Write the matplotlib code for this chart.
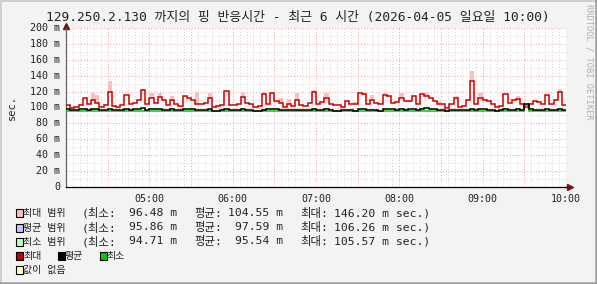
import numpy as np
import matplotlib
matplotlib.use("Agg")
import matplotlib.pyplot as plt
from matplotlib.patches import Rectangle
from matplotlib.lines import Line2D
from matplotlib.ticker import FixedLocator, NullFormatter

# ---------------- data ----------------
start_hour = 4.0          # 04:00
step_hours = 0.05         # 3-minute samples
max_vals = [103,100,101,103,112,104,110,106,101,103,
            119,102,101,103,116,104,106,110,122,105,
            112,106,113,109,103,110,104,102,114,112,
            110,104,104,106,112,101,102,103,121,103,
            103,104,113,106,104,101,102,117,104,118,
            108,106,101,104,102,110,103,102,106,120,
            104,107,112,104,103,103,101,108,104,104,
            118,117,104,110,106,104,116,115,106,107,
            112,108,108,115,104,117,114,112,108,104,
            105,100,105,112,101,102,110,133,104,112,
            110,108,104,101,102,117,106,110,111,105,
            101,104,108,107,104,116,104,110,120,103]
max_hi = [103,100,101,105,112,104,118,116,101,103,
          133,102,101,103,116,104,106,110,123,105,
          118,106,118,109,103,114,104,102,114,112,
          110,120,104,106,118,101,102,103,121,103,
          103,104,120,106,104,101,102,119,104,118,
          108,112,101,111,102,118,103,102,106,122,
          104,107,118,104,103,103,101,108,104,107,
          118,119,104,116,106,104,118,115,106,107,
          118,108,108,115,104,117,118,112,108,108,
          105,100,105,114,101,102,110,146,104,118,
          110,108,104,101,102,117,106,110,114,105,
          101,104,108,107,104,116,104,110,123,103]
avg_vals = [98,97,97,98,98,97,98,98,97,97,
            98,97,97,97,98,97,98,98,99,97,
            98,98,98,97,97,98,97,97,98,98,
            98,97,97,97,98,96,96,97,98,97,
            97,97,98,97,97,96,96,97,98,98,
            98,97,97,97,97,97,97,97,97,98,
            97,97,98,97,96,96,97,97,97,96,
            98,98,97,97,97,96,98,98,98,97,
            98,97,98,98,97,98,99,98,98,97,
            97,96,97,97,97,97,97,98,97,98,
            98,97,97,96,97,98,97,97,98,97,
            104,98,97,97,97,98,97,97,98,97]
avg_hi = [98,97,97,98,98,98,98,99,97,97,
          99,97,97,97,98,97,98,98,100,97,
          99,98,99,97,97,98,97,97,99,98,
          98,98,97,97,99,96,96,97,99,97,
          97,97,99,97,97,96,96,98,98,99,
          98,97,97,97,97,98,97,97,97,99,
          97,97,99,97,96,96,97,97,97,96,
          99,99,97,97,97,96,99,98,98,97,
          99,97,98,99,97,99,100,98,98,97,
          97,96,97,97,97,97,97,100,97,99,
          98,97,97,96,97,99,97,97,99,97,
          106,98,97,97,97,99,97,97,99,97]
min_vals = [95,95,95,95,95,95,95,95,95,95,
            95,95,95,96,95,95,95,95,95,95,
            95,96,95,95,95,95,95,95,95,95,
            96,96,96,95,95,95,95,95,95,96,
            96,95,95,95,95,95,95,95,95,95,
            95,95,95,95,95,95,96,95,95,95,
            95,95,95,95,95,95,95,95,95,95,
            95,95,95,95,95,95,95,95,95,95,
            95,95,95,95,95,95,95,96,95,95,
            95,95,95,95,95,95,95,95,95,95,
            95,95,95,95,95,95,95,95,95,95,
            103,96,95,95,95,95,95,95,96,95]
min_hi = [95,95,95,96,95,95,95,95,95,95,
          96,95,95,96,95,95,95,95,96,95,
          95,96,95,95,95,95,95,95,95,95,
          96,96,96,95,95,95,95,95,96,96,
          96,95,95,95,95,95,95,95,95,95,
          95,95,95,95,95,95,96,95,95,95,
          95,95,96,95,95,95,95,95,95,95,
          96,95,95,95,95,95,95,95,95,95,
          95,95,95,95,95,95,96,96,95,95,
          95,95,95,95,95,95,95,96,95,95,
          95,95,95,95,95,95,95,95,95,95,
          105,96,95,95,95,95,95,95,96,95]

y_ticks = [0, 20, 40, 60, 80, 100, 120, 140, 160, 180, 200]
y_labels = ["0", "20 m", "40 m", "60 m", "80 m", "100 m", "120 m",
            "140 m", "160 m", "180 m", "200 m"]
x_label_hours = [5, 6, 7, 8, 9, 10]
x_labels = ["05:00", "06:00", "07:00", "08:00", "09:00", "10:00"]

title = "129.250.2.130 까지의 핑 반응시간 - 최근 6 시간 (2026-04-05 일요일 10:00)"
range_labels = ["최대 범위", "평균 범위", "최소 범위"]
stat_min = [96.48, 95.86, 94.71]
stat_avg = [104.55, 97.59, 95.54]
stat_max = [146.20, 106.26, 105.57]
line_labels = ["최대", "평균", "최소"]
nodata_label = "값이 없음"

# ---------------- styling ----------------
W, H = 597, 284
MONO = ["DejaVu Sans Mono", "Noto Sans CJK KR"]
BACK = "#f3f3f3"
C_RANGE = ["#ffbcbc", "#c4c4ff", "#bcffbc"]
C_LINE = ["#cc0000", "#000000", "#00cc00"]
C_NODATA = "#ffffaa"
TXT = "#222222"

fig = plt.figure(figsize=(W / 100, H / 100), dpi=100)
fig.patch.set_facecolor(BACK)

def fx(x):
    return x / W

def fy(y):
    return 1 - y / H

# 3D frame
fig.add_artist(Line2D([0, 1], [fy(0.5), fy(0.5)], color="#cfcfcf", lw=1.4, transform=fig.transFigure))
fig.add_artist(Line2D([fx(0.5), fx(0.5)], [0, 1], color="#cfcfcf", lw=1.4, transform=fig.transFigure))
fig.add_artist(Line2D([0, 1], [fy(283), fy(283)], color="#9e9e9e", lw=1.8, transform=fig.transFigure))
fig.add_artist(Line2D([fx(596), fx(596)], [0, 1], color="#9e9e9e", lw=1.8, transform=fig.transFigure))

ax = fig.add_axes([fx(66), fy(187), 500 / W, 159 / H])
ax.set_facecolor("white")

n = len(max_vals)
edges = start_hour + step_hours * np.arange(n + 1)

ax.stairs(max_hi, edges, baseline=max_vals, fill=True, color=C_RANGE[0], lw=0, zorder=2)
ax.stairs(avg_hi, edges, baseline=avg_vals, fill=True, color=C_RANGE[1], lw=0, zorder=2)
ax.stairs(min_hi, edges, baseline=min_vals, fill=True, color=C_RANGE[2], lw=0, zorder=2)
ax.stairs(max_vals, edges, baseline=None, color=C_LINE[0], lw=1.1, zorder=4)
ax.stairs(avg_vals, edges, baseline=None, color=C_LINE[1], lw=1.1, zorder=5)
ax.stairs(min_vals, edges, baseline=None, color=C_LINE[2], lw=1.1, zorder=3)

ax.set_xlim(start_hour, start_hour + step_hours * n)
ax.set_ylim(y_ticks[0], y_ticks[-1])

# grid
ax.xaxis.set_major_locator(FixedLocator(np.arange(4.5, 10.01, 0.5)))
ax.xaxis.set_minor_locator(FixedLocator(np.arange(4 + 5 / 60, 10.0, 5 / 60)))
ax.yaxis.set_major_locator(FixedLocator(y_ticks))
ax.yaxis.set_minor_locator(FixedLocator(np.arange(10, 200, 20)))
ax.grid(which="minor", color="#d4d4d4", lw=0.7, linestyle=(0, (1, 2)))
ax.grid(which="major", color="#f0a0a0", lw=0.7, linestyle=(0, (1, 2)))
ax.set_axisbelow(True)
ax.xaxis.set_major_formatter(NullFormatter())
ax.yaxis.set_major_formatter(NullFormatter())
ax.tick_params(which="both", length=0)

for h, lab in zip(x_label_hours, x_labels):
    ax.text(h, -0.045, lab, transform=ax.get_xaxis_transform(), ha="center", va="top",
            family=MONO, fontsize=7.2, color=TXT)
for v, lab in zip(y_ticks, y_labels):
    ax.text(-0.012, v, lab, transform=ax.get_yaxis_transform(), ha="right", va="center",
            family=MONO, fontsize=7.2, color=TXT)

for s in ["top", "right"]:
    ax.spines[s].set_visible(False)
ax.spines["left"].set_color("#606060")
ax.spines["left"].set_linewidth(0.9)
ax.spines["bottom"].set_color("#000000")
ax.spines["bottom"].set_linewidth(0.9)

# axis arrows
ax.plot([0], [1.015], marker="^", markersize=4, color="#7a1010", transform=ax.transAxes, clip_on=False)
ax.plot([1.008], [0], marker=">", markersize=4, color="#7a1010", transform=ax.transAxes, clip_on=False)

# title, labels
fig.text(fx(298), fy(18), title, ha="center", va="center", family=MONO, fontsize=9.3, color=TXT)
fig.text(fx(12), fy(107), "sec.", rotation=90, ha="center", va="center", family=MONO, fontsize=7.5, color=TXT)
fig.text(fx(589), fy(4), "RRDTOOL / TOBI OETIKER", rotation=270, ha="center", va="top",
         family=MONO, fontsize=6.3, color="#b0b0b0")

# legend
def box(x, y, color):
    fig.add_artist(Rectangle((fx(x), fy(y + 4)), 7 / W, 8 / H, transform=fig.transFigure,
                             facecolor=color, edgecolor="black", lw=0.8))

kw = dict(va="center", family=MONO, fontsize=8.2, color=TXT)
kwk = dict(va="center", family=MONO, fontsize=7.2, color=TXT)
rows_y = [213, 227.5, 241.5]
for i in range(3):
    y = rows_y[i]
    box(16, y, C_RANGE[i])
    fig.text(fx(23), fy(y), range_labels[i], ha="left", **kwk)
    fig.text(fx(82), fy(y), "(최소:", ha="left", **kw)
    fig.text(fx(177), fy(y), f"{stat_min[i]:.2f} m", ha="right", **kw)
    fig.text(fx(194), fy(y), "평균:", ha="left", **kw)
    fig.text(fx(283.5), fy(y), f"{stat_avg[i]:.2f} m", ha="right", **kw)
    fig.text(fx(300), fy(y), "최대:", ha="left", **kw)
    fig.text(fx(430), fy(y), f"{stat_max[i]:.2f} m sec.)", ha="right", **kw)

y = 256
for xb, lab, col in zip([16, 57.5, 99.5], line_labels, C_LINE):
    box(xb, y, col)
    fig.text(fx(xb + 7), fy(y), lab, ha="left", **kwk)
y = 270
box(16, y, C_NODATA)
fig.text(fx(23), fy(y), nodata_label, ha="left", **kwk)

fig.savefig("out.png", dpi=100, facecolor=BACK)
